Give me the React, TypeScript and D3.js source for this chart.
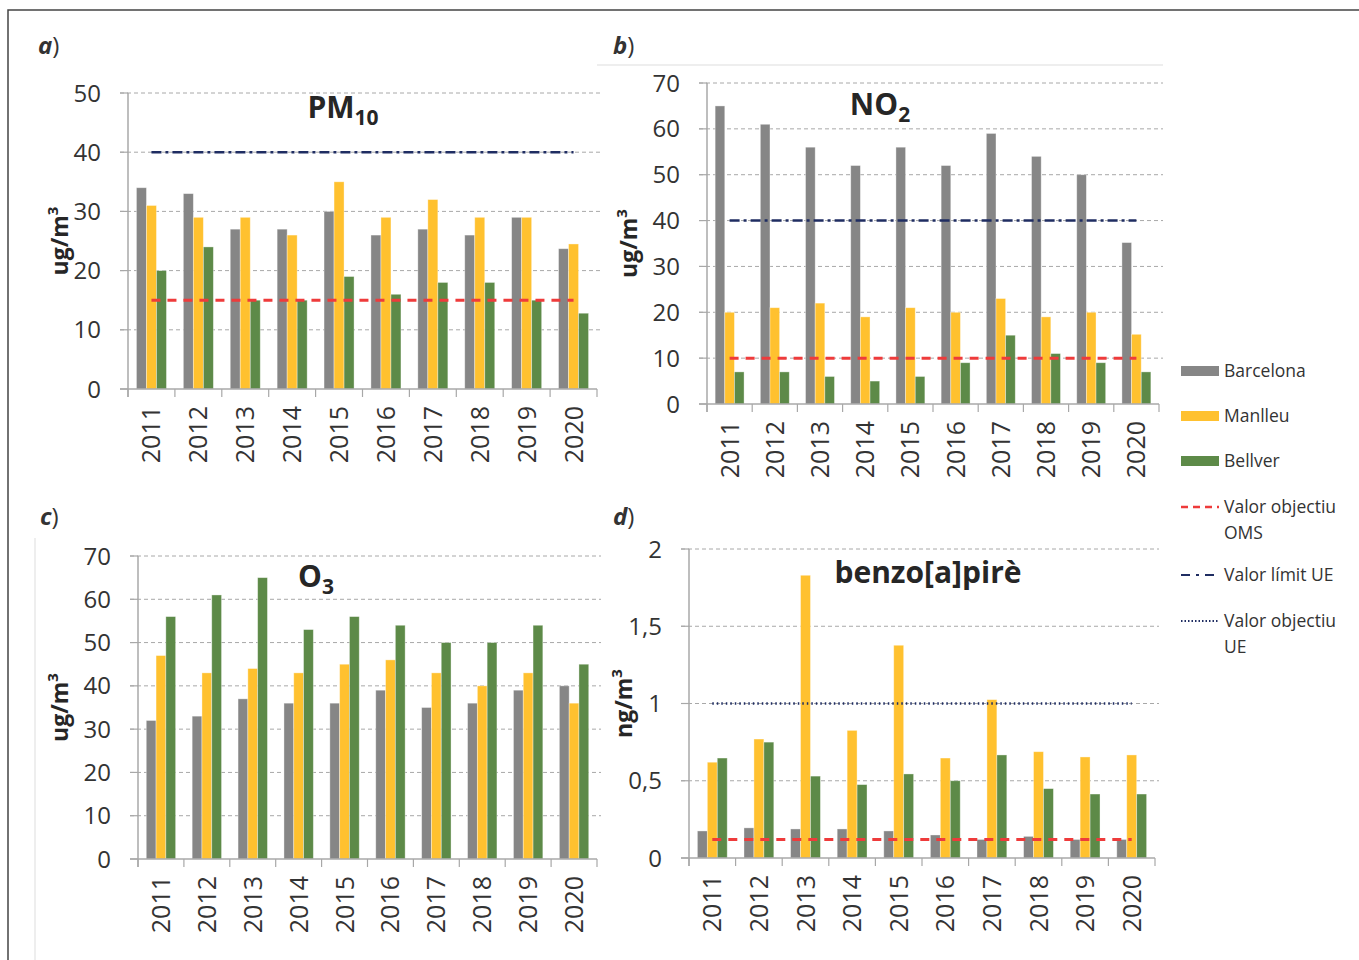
import React from 'react';
import * as d3 from 'd3';

// data
const years = ['2011', '2012', '2013', '2014', '2015', '2016', '2017', '2018', '2019', '2020'];
const stations = ['Barcelona', 'Manlleu', 'Bellver'];

const pm10Barcelona = [34, 33, 27, 27, 30, 26, 27, 26, 29, 23.7];
const pm10Manlleu = [31, 29, 29, 26, 35, 29, 32, 29, 29, 24.5];
const pm10Bellver = [20, 24, 15, 15, 19, 16, 18, 18, 15, 12.8];

const no2Barcelona = [65, 61, 56, 52, 56, 52, 59, 54, 50, 35.2];
const no2Manlleu = [20, 21, 22, 19, 21, 20, 23, 19, 20, 15.2];
const no2Bellver = [7, 7, 6, 5, 6, 9, 15, 11, 9, 7];

const o3Barcelona = [32, 33, 37, 36, 36, 39, 35, 36, 39, 40];
const o3Manlleu = [47, 43, 44, 43, 45, 46, 43, 40, 43, 36];
const o3Bellver = [56, 61, 65, 53, 56, 54, 50, 50, 54, 45];

const bapBarcelona = [0.175, 0.195, 0.188, 0.188, 0.175, 0.149, 0.12, 0.14, 0.12, 0.12];
const bapManlleu = [0.62, 0.77, 1.83, 0.826, 1.377, 0.647, 1.025, 0.688, 0.654, 0.667];
const bapBellver = [0.647, 0.75, 0.53, 0.475, 0.544, 0.5, 0.667, 0.449, 0.414, 0.414];

const legendLines = ['Valor objectiu|OMS', 'Valor límit UE', 'Valor objectiu|UE'];

const colors = ['#868686', '#FFC12F', '#5D8A48'];
const RED = '#EE3B3B';
const NAVY = '#1F2D62';
const FONT = "'Open Sans', 'Noto Sans', sans-serif";
const TXT = '#333';

type Panel = {
  tag: string;
  title: string;
  sub?: string;
  titleX: number;
  titleY: number;
  tagX: number;
  tagY: number;
  unit: string;
  unitX: number;
  x0: number;
  x1: number;
  yTop: number;
  yBot: number;
  max: number;
  ticks: number[];
  fmt: (v: number) => string;
  series: number[][];
  who?: number;
  euLimit?: number;
  euTarget?: number;
};

const intFmt = (v: number) => String(v);
const commaFmt = (v: number) => String(v).replace('.', ',');

const panels: Panel[] = [
  {
    tag: 'a', title: 'PM', sub: '10', titleX: 343, titleY: 118, tagX: 38, tagY: 54, unit: 'ug', unitX: 68,
    x0: 128, x1: 597, yTop: 93, yBot: 389, max: 50, ticks: d3.range(0, 51, 10), fmt: intFmt,
    series: [pm10Barcelona, pm10Manlleu, pm10Bellver], who: 15, euLimit: 40,
  },
  {
    tag: 'b', title: 'NO', sub: '2', titleX: 880, titleY: 115, tagX: 613, tagY: 54, unit: 'ug', unitX: 637,
    x0: 707, x1: 1159, yTop: 83, yBot: 404, max: 70, ticks: d3.range(0, 71, 10), fmt: intFmt,
    series: [no2Barcelona, no2Manlleu, no2Bellver], who: 10, euLimit: 40,
  },
  {
    tag: 'c', title: 'O', sub: '3', titleX: 316, titleY: 587, tagX: 40, tagY: 525, unit: 'ug', unitX: 68,
    x0: 138, x1: 597, yTop: 556, yBot: 859, max: 70, ticks: d3.range(0, 71, 10), fmt: intFmt,
    series: [o3Barcelona, o3Manlleu, o3Bellver],
  },
  {
    tag: 'd', title: 'benzo[a]pirè', titleX: 928, titleY: 583, tagX: 613, tagY: 525, unit: 'ng', unitX: 632,
    x0: 689, x1: 1155, yTop: 549, yBot: 858, max: 2, ticks: [0, 0.5, 1, 1.5, 2], fmt: commaFmt,
    series: [bapBarcelona, bapManlleu, bapBellver], who: 0.12, euTarget: 1,
  },
];

function ChartPanel({ p }: { p: Panel }) {
  const x = d3.scaleBand<string>().domain(years).range([p.x0, p.x1]).padding(0);
  const bw = x.bandwidth();
  const inner = d3.scaleBand<number>().domain([0, 1, 2]).range([bw * 0.18, bw * 0.82]).padding(0);
  const y = d3.scaleLinear().domain([0, p.max]).range([p.yBot, p.yTop]);
  const cx0 = (x(years[0]) ?? 0) + bw / 2;
  const cx1 = (x(years[years.length - 1]) ?? 0) + bw / 2;
  const boundaries = years.map(d => x(d) ?? 0).concat([p.x1]);
  const midY = (p.yTop + p.yBot) / 2;

  return (
    <g>
      <text x={p.tagX} y={p.tagY} fontFamily={FONT} fontSize={24} fill={TXT}>
        <tspan fontStyle="italic" fontWeight="bold">{p.tag}</tspan>
        <tspan>)</tspan>
      </text>

      {/* gridlines */}
      {p.ticks.filter(t => t > 0).map(t => (
        <line key={t} x1={p.x0 - 8} x2={p.x1 + 4} y1={y(t)} y2={y(t)}
          stroke="#A8A8A8" strokeWidth={1} strokeDasharray="4,3" />
      ))}
      {p.ticks.map(t => (
        <g key={'t' + t}>
          <line x1={p.x0 - 8} x2={p.x0} y1={y(t)} y2={y(t)} stroke="#A8A8A8" strokeWidth={1.2} />
          <text x={p.x0 - 27} y={y(t)} dy="0.36em" textAnchor="end" fontFamily={FONT}
            fontSize={24} fill={TXT}>{p.fmt(t)}</text>
        </g>
      ))}

      {/* bars */}
      {p.series.map((vals, si) => (
        <g key={si}>
          {vals.map((v, i) => (
            <rect key={i} x={(x(years[i]) ?? 0) + (inner(si) ?? 0)} y={y(v)}
              width={inner.bandwidth()} height={p.yBot - y(v)} fill={colors[si]}
              stroke="#ffffff" strokeOpacity={0.45} strokeWidth={0.8} />
          ))}
        </g>
      ))}

      {/* axes */}
      <line x1={p.x0} x2={p.x0} y1={p.yTop} y2={p.yBot + 8} stroke="#A8A8A8" strokeWidth={1.5} />
      <line x1={p.x0 - 8} x2={p.x1} y1={p.yBot} y2={p.yBot} stroke="#A8A8A8" strokeWidth={1.5} />
      {boundaries.map((b, i) => (
        <line key={i} x1={b} x2={b} y1={p.yBot} y2={p.yBot + 8} stroke="#A8A8A8" strokeWidth={1.2} />
      ))}
      {years.map(d => (
        <text key={d} transform={`translate(${(x(d) ?? 0) + bw / 2},${p.yBot + 17}) rotate(-90)`}
          dy="0.36em" textAnchor="end" fontFamily={FONT} fontSize={25} fill={TXT}>{d}</text>
      ))}

      {/* reference lines */}
      {p.euLimit !== undefined && (
        <line x1={cx0} x2={cx1} y1={y(p.euLimit)} y2={y(p.euLimit)} stroke={NAVY}
          strokeWidth={2.5} strokeDasharray="10,4,3,4" />
      )}
      {p.euTarget !== undefined && (
        <line x1={cx0} x2={cx1} y1={y(p.euTarget)} y2={y(p.euTarget)} stroke={NAVY}
          strokeWidth={2.5} strokeDasharray="1.5,3" />
      )}
      {p.who !== undefined && (
        <line x1={cx0} x2={cx1} y1={y(p.who)} y2={y(p.who)} stroke={RED}
          strokeWidth={3} strokeDasharray="9,7" />
      )}

      {/* title */}
      <text x={p.titleX} y={p.titleY} textAnchor="middle" fontFamily={FONT} fontWeight="bold"
        fontSize={30} fill="#262626">
        {p.title}
        {p.sub && <tspan fontSize={21} dy={7}>{p.sub}</tspan>}
      </text>

      {/* y label */}
      <text transform={`translate(${p.unitX},${midY}) rotate(-90)`} textAnchor="middle"
        fontFamily={FONT} fontWeight="bold" fontSize={23} fill="#262626">
        {p.unit}/m<tspan fontSize={15} dy={-10}>3</tspan>
      </text>
    </g>
  );
}

function Legend() {
  const lx = 1181;
  const tx = 1224;
  const swatchY = [371, 416, 461];
  const lineY = [507, 575, 621];
  const lineStyles = [
    { stroke: RED, dash: '7,5', w: 2.5 },
    { stroke: NAVY, dash: '9,6,3,6', w: 2.2 },
    { stroke: NAVY, dash: '1.5,2', w: 2 },
  ];
  return (
    <g fontFamily={FONT} fontSize={17.5} fill={TXT}>
      {stations.map((s, i) => (
        <g key={s}>
          <rect x={lx} y={swatchY[i] - 5} width={38} height={10} fill={colors[i]} />
          <text x={tx} y={swatchY[i]} dy="0.35em">{s}</text>
        </g>
      ))}
      {legendLines.map((l, i) => (
        <g key={i}>
          <line x1={lx} x2={lx + 38} y1={lineY[i]} y2={lineY[i]} stroke={lineStyles[i].stroke}
            strokeWidth={lineStyles[i].w} strokeDasharray={lineStyles[i].dash} />
          {l.split('|').map((part, j) => (
            <text key={j} x={tx} y={lineY[i] + j * 26} dy="0.35em">{part}</text>
          ))}
        </g>
      ))}
    </g>
  );
}

export default function App() {
  return (
    <div style={{ position: 'absolute', left: 0, top: 0 }}>
      <svg width={1359} height={960} style={{ display: 'block', background: '#fff' }}>
        <path d="M8,960 V10 H1359" fill="none" stroke="#444" strokeWidth={1.5} />
        <line x1={597} x2={1163} y1={65} y2={65} stroke="#DDD" strokeWidth={1} />
        <line x1={35} x2={35} y1={538} y2={960} stroke="#DDD" strokeWidth={1} />
        {panels.map(p => <ChartPanel key={p.tag} p={p} />)}
        <Legend />
      </svg>
    </div>
  );
}
